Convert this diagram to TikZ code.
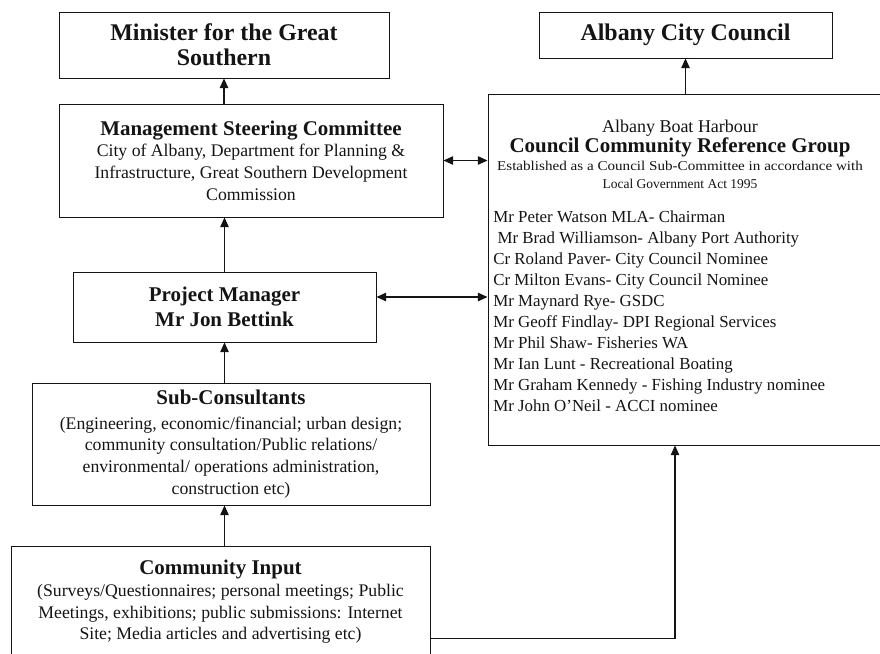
\documentclass[tikz,border=0pt]{standalone}
\usepackage{fontspec}
\setmainfont{Liberation Serif}
\usetikzlibrary{arrows.meta,positioning,calc}
\definecolor{inkdark}{HTML}{141414}
\newcommand{\bigbold}{\fontsize{17}{17.5}\selectfont\bfseries}
\newcommand{\headbold}{\fontsize{14.9}{17.8}\selectfont\bfseries}
\newcommand{\bodytext}{\fontsize{12.6}{15.4}\selectfont}
\newcommand{\nametext}{\fontsize{12}{14.9}\selectfont}
\newcommand{\tinytext}{\fontsize{9.6}{12.8}\selectfont}
\tikzset{
  >=Triangle,
  orgbox/.style={rectangle, draw=inkdark, line width=0.6pt, align=center,
    inner sep=2pt, text=inkdark},
  boxtext/.style={align=center, inner sep=0pt, text=inkdark},
  arrow/.style={-{Triangle[length=2.4mm,width=2.1mm]}, line width=0.8pt, draw=inkdark},
  dblarrow/.style={{Triangle[length=2.4mm,width=2.1mm]}-{Triangle[length=2.4mm,width=2.1mm]},
    line width=0.8pt, draw=inkdark}
}

\begin{document}
\begin{tikzpicture}[x=0.025cm,y=-0.025cm]
\useasboundingbox (0,0) rectangle (880,653);
% left column
\node[orgbox, minimum width=8.25cm, minimum height=1.65cm, font=\bigbold] (minister) at (224,45)
  {Minister for the Great\\Southern};
\node[orgbox, minimum width=9.6cm, minimum height=2.825cm, font=\bodytext] (msc) at (251,160.5)
  {{\headbold Management Steering Committee}\\City of Albany, Department for Planning \&\\
   Infrastructure, Great Southern Development\\Commission};
\node[orgbox, minimum width=7.575cm, minimum height=1.75cm, font=\headbold] (pm) at (224.5,307)
  {Project Manager\\Mr Jon Bettink};
\node[orgbox, minimum width=9.95cm, minimum height=3.05cm, font=\bodytext] (sub) at (231,444)
  {{\headbold Sub-Consultants}\\[2pt](Engineering, economic/financial; urban design;\\
   community consultation/Public relations/\\environmental/ operations administration,\\
   construction etc)};
\node[orgbox, minimum width=10.475cm, minimum height=4.6cm, anchor=north] (ci) at (220.5,546) {};
\node[boxtext, font=\bodytext, anchor=north] (citext) at ($(ci.north)+(0,14)$)
  {{\headbold Community Input}\\(Surveys/Questionnaires; personal meetings; Public\\
   Meetings, exhibitions; public submissions: Internet\\Site; Media articles and advertising etc)};
% right column
\node[orgbox, minimum width=7.325cm, minimum height=1.15cm, font=\bigbold] (acc) at (685.5,35)
  {Albany City Council};
\node[orgbox, minimum width=9.9cm, minimum height=8.775cm] (ccrg) at (686,269.5) {};
\node[boxtext, font=\tinytext, anchor=north] (ccrghead) at (680,120)
  {{\fontsize{12.8}{14}\selectfont Albany Boat Harbour}\\
   {\headbold Council Community Reference Group}\\
   {\addfontfeatures{FakeStretch=1.12}Established as a Council Sub-Committee in accordance with}\\
   Local Government Act 1995};
\node[boxtext, font=\nametext, align=left, anchor=north west] (members) at (493,211)
  {Mr Peter Watson MLA- Chairman\\
   \hspace{3pt}Mr Brad Williamson- Albany Port Authority\\
   Cr Roland Paver- City Council Nominee\\
   Cr Milton Evans- City Council Nominee\\
   Mr Maynard Rye- GSDC\\
   Mr Geoff Findlay- DPI Regional Services\\
   Mr Phil Shaw- Fisheries WA\\
   Mr Ian Lunt - Recreational Boating\\
   Mr Graham Kennedy - Fishing Industry nominee\\
   Mr John O'Neil - ACCI nominee};
% connectors
\coordinate (pmlink) at ($(pm.east)+(0,-10)$);
\coordinate (cibend) at (675,0);
\draw[arrow] (msc.north -| minister.south) -- (minister.south);
\draw[arrow] (pm.north) -- (pm.north |- msc.south);
\draw[arrow] (sub.north -| pm.south) -- (pm.south);
\draw[arrow] (ci.north -| pm.south) -- (pm.south |- sub.south);
\draw[arrow] (acc.south |- ccrg.north) -- (acc.south);
\draw[dblarrow] (msc.east) -- (msc.east -| ccrg.west);
\draw[dblarrow] (pmlink) -- (pmlink -| ccrg.west);
\draw[arrow] (ci.east) -| (ccrg.south -| cibend);
\end{tikzpicture}
\end{document}
